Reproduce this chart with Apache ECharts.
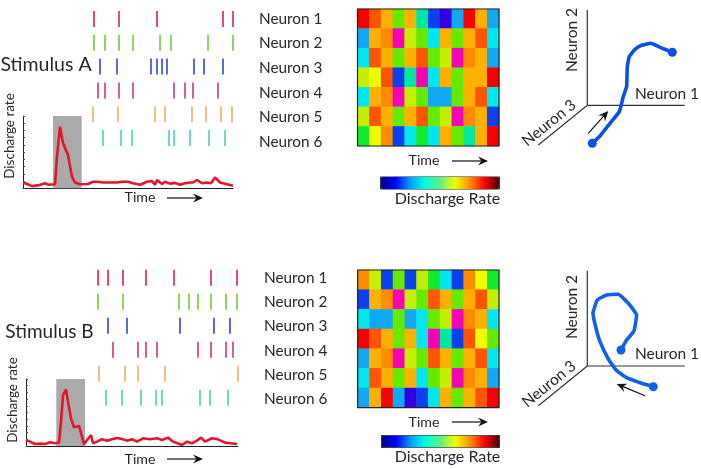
<!DOCTYPE html>
<html>
<head>
<meta charset="utf-8">
<title>Neuron population responses</title>
<script src="https://cdn.jsdelivr.net/npm/echarts@6/dist/echarts.min.js"></script>
<style>
html, body { margin: 0; padding: 0; background: #fff; }
#chart { width: 701px; height: 469px; }
</style>
</head>
<body>
<div id="chart"></div>
<script>
var neurons = ["Neuron 1", "Neuron 2", "Neuron 3", "Neuron 4", "Neuron 5", "Neuron 6"];
var neuronColors = ["#dd2244", "#74cc33", "#3344d6", "#c93a7c", "#e6b064", "#44d2ba"];

// spike times per neuron
var spikesA = [
    [71, 96, 134, 200, 210],
    [71, 82, 96, 110, 137, 148, 185, 210],
    [77, 94, 128, 134, 139, 144, 171, 181, 200],
    [75, 82, 96, 110, 151, 162, 170, 195],
    [70, 95, 132, 142, 169, 183, 198, 209],
    [80, 98, 109, 146, 151, 167, 186, 202]
];
var spikesB = [
    [72, 82, 97, 120, 148, 185, 211],
    [72, 97, 153, 163, 172, 185, 200, 211],
    [82, 101, 154, 188, 204],
    [87, 112, 120, 131, 172, 185, 200, 207],
    [73, 99, 112, 139, 212],
    [80, 96, 115, 130, 136, 174, 184, 202]
];

// discharge rate over time, [time, rate]
var rateA = [[0, 0.8], [4, 0.6], [9, 0.3], [15, 0.4], [22, 0.7], [25, 0.5], [32, 0.55], [34, 4.4], [37, 8.5], [40, 6.25],
    [45, 4.6], [49, 1.6], [52, 0.8], [57, 0.55], [65, 0.6], [70, 0.9], [75, 0.9], [80, 0.8], [87, 0.8], [94, 0.8],
    [99, 0.9], [105, 0.9], [110, 0.7], [117, 0.5], [124, 0.9], [129, 1], [132, 0.5], [134, 1.15], [139, 0.6], [142, 0.9],
    [147, 0.65], [152, 0.75], [157, 0.5], [162, 0.7], [167, 0.8], [170, 0.8], [174, 1.15], [179, 0.7], [184, 0.8], [188, 0.7],
    [192, 1.5], [197, 0.8], [204, 0.55], [210, 0.35]];
var rateB = [[0, 0.9], [4, 0.65], [9, 0.3], [14, 0.35], [19, 0.3], [24, 0.55], [29, 0.4], [33, 0.5], [35, 3.6], [37, 7.6],
    [40, 8.45], [42, 6.6], [45, 4.1], [48, 2.8], [53, 3], [56, 1.4], [58, 0.25], [61, 0.9], [65, 1.65], [67, 0.4],
    [71, 0.65], [76, 1], [81, 0.8], [86, 1], [91, 1.2], [96, 1.05], [101, 0.8], [106, 1], [111, 0.65], [117, 1.15],
    [124, 1], [131, 1.15], [136, 0.9], [142, 1.25], [147, 0.65], [156, 0.15], [161, 0.65], [166, 0.4], [171, 0.8], [175, 1.25],
    [179, 0.65], [186, 1.15], [192, 1], [199, 0.5], [204, 0.4], [211, 0.3]];
var stimA = [30, 58.7];
var stimB = [30.3, 59];

// heat map levels, index into heatColors
var heatColors = ["#1000e8", "#3000e0", "#0a40ee", "#12a8f2", "#00e8ee", "#00e8a0", "#12ea30", "#66ea00", "#c4f000",
    "#eeff00", "#ffb000", "#ff8c00", "#ff5500", "#f80000", "#f800b4"];
var heatA = [
    [13, 12, 10, 7, 10, 5, 2, 1, 3, 13, 10, 3],
    [3, 10, 11, 14, 8, 7, 4, 10, 7, 10, 12, 4],
    [4, 12, 10, 7, 10, 12, 7, 8, 14, 11, 10, 3],
    [8, 9, 12, 2, 5, 14, 4, 10, 7, 10, 10, 13],
    [4, 10, 11, 14, 8, 7, 3, 3, 7, 10, 12, 4],
    [8, 12, 10, 7, 10, 12, 7, 8, 14, 11, 10, 2],
    [6, 9, 11, 2, 4, 6, 4, 10, 7, 5, 10, 13]
];
var heatB = [
    [11, 8, 2, 7, 2, 8, 6, 4, 2, 11, 9, 6],
    [2, 10, 11, 14, 8, 7, 12, 10, 7, 10, 12, 8],
    [4, 3, 3, 7, 3, 4, 7, 8, 14, 11, 10, 4],
    [13, 12, 10, 7, 10, 4, 14, 5, 2, 12, 9, 7],
    [3, 10, 11, 14, 8, 7, 12, 10, 7, 10, 12, 4],
    [4, 12, 10, 7, 10, 4, 7, 8, 14, 11, 10, 3],
    [3, 10, 13, 3, 1, 2, 4, 10, 7, 10, 12, 13]
];
var barColors = ["#000080", "#0000ff", "#00a0ff", "#00ffe0", "#60f080", "#f0ff00", "#ff9000", "#ff0000", "#400000"];

// state space axes and trajectories
var axis1 = [[0, 0], [97.4, 0]];
var axis2 = [[0, 0], [0, 95.3]];
var axis3 = [[0, 0], [-49, -39.7]];
var pathA = [[5, -38], [12.7, -30.7], [22.7, -18], [32, -6.3], [36, 8.7], [39.3, 18.7], [40, 38.7], [42, 48.7],
    [47.7, 56], [54.3, 60], [63.3, 62], [72.7, 58], [85, 53]];
var pathB = [[66, -20.7], [54.3, -17.3], [39.3, -11.7], [28.7, -4], [21, 7], [12.7, 24.3], [8.7, 37.7], [5.7, 52.7],
    [10, 66], [19.3, 71], [31, 71.7], [41, 62.7], [49.3, 51], [46.7, 35], [39.3, 26], [33.7, 16]];

var textColor = "#2a2627";
var axisColor = "#333";
var fontName = 'Lato, "Noto Sans", sans-serif';

var grids = [], xAxes = [], yAxes = [], series = [];

function addGrid(left, top, width, height, xAxis, yAxis) {
    var idx = grids.length;
    grids.push({ left: left, top: top, width: width, height: height });
    xAxis.gridIndex = idx;
    yAxis.gridIndex = idx;
    xAxes.push(xAxis);
    yAxes.push(yAxis);
    return idx;
}

function addRaster(left, top, width, height, spikes, max) {
    var idx = addGrid(left, top, width, height,
        { type: "value", min: 0, max: max, show: false },
        { type: "category", data: neurons, inverse: true, show: false });
    spikes.forEach(function(times, n) {
        series.push({
            type: "scatter",
            name: neurons[n],
            xAxisIndex: idx,
            yAxisIndex: idx,
            symbol: "rect",
            symbolSize: [2, 16],
            itemStyle: { color: neuronColors[n] },
            silent: true,
            data: times.map(function(t) { return [t, n]; })
        });
    });
}

function addNames(left, top, height) {
    addGrid(left - 9, top, 5, height,
        { type: "value", show: false },
        {
            type: "category", data: neurons, inverse: true, position: "right",
            axisLine: { show: false }, axisTick: { show: false },
            axisLabel: { margin: 4, fontSize: 15.3, color: textColor, fontFamily: fontName }
        });
}

function addRate(left, top, width, height, rate, stim, max) {
    var idx = addGrid(left, top, width, height,
        {
            type: "value", min: 0, max: max, splitLine: { show: false },
            axisLabel: { show: false }, axisTick: { show: false },
            axisLine: { show: true, lineStyle: { color: "#222", width: 1 } }
        },
        {
            type: "value", min: 0, max: 10, interval: 1, splitLine: { show: false },
            axisLabel: { show: false },
            axisTick: { show: true, inside: true, length: 2, lineStyle: { color: "#444" } },
            axisLine: { show: true, lineStyle: { color: "#222", width: 1 } }
        });
    series.push({
        type: "line",
        xAxisIndex: idx,
        yAxisIndex: idx,
        data: rate,
        showSymbol: false,
        silent: true,
        z: 5,
        lineStyle: { color: "#e4142c", width: 2.6 },
        markArea: {
            silent: true,
            itemStyle: { color: "#aaaaaa" },
            data: [[{ xAxis: stim[0] }, { xAxis: stim[1] }]]
        }
    });
}

function addHeat(left, top, width, height, rows) {
    var cols = [], names = [], data = [];
    for (var c = 0; c < rows[0].length; c++) cols.push(c);
    rows.forEach(function(row, r) {
        names.push(r);
        row.forEach(function(v, c) { data.push([c, r, v]); });
    });
    var idx = addGrid(left, top, width, height,
        { type: "category", data: cols, show: false },
        { type: "category", data: names, inverse: true, show: false });
    series.push({
        type: "heatmap",
        xAxisIndex: idx,
        yAxisIndex: idx,
        data: data,
        silent: true
    });
    return series.length - 1;
}

function addState(left, top, path, color) {
    var idx = addGrid(left, top, 150, 150,
        { type: "value", min: -50, max: 100, show: false },
        { type: "value", min: -50, max: 100, show: false });
    [axis1, axis2, axis3].forEach(function(a) {
        series.push({
            type: "line", xAxisIndex: idx, yAxisIndex: idx, data: a, showSymbol: false, silent: true,
            lineStyle: { color: axisColor, width: 1.2 }
        });
    });
    series.push({
        type: "line", xAxisIndex: idx, yAxisIndex: idx, data: path, showSymbol: false, silent: true,
        smooth: 0.12, z: 4,
        lineStyle: { color: color, width: 3.6 }
    });
    series.push({
        type: "scatter", xAxisIndex: idx, yAxisIndex: idx, silent: true, z: 5,
        symbolSize: 9, itemStyle: { color: color, opacity: 1 },
        data: [path[0], path[path.length - 1]]
    });
}

addRaster(23, 7, 210, 143, spikesA, 210);
addRaster(26, 265.7, 212, 144, spikesB, 212);
addNames(259, 6.5, 147.6);
addNames(264, 266, 145);
addRate(23, 116, 210, 72.3, rateA, stimA, 210);
addRate(26, 379, 212, 67, rateB, stimB, 212);
var heatSeries = [
    addHeat(357.5, 9, 141.5, 137, heatA),
    addHeat(357.7, 270, 141.3, 137.7, heatB)
];
addState(537.3, 5.3, pathA, "#0c4fe2");
addState(537.3, 266, pathB, "#1060ea");

function label(text, x, y, size, rotation) {
    return {
        type: "text", x: x, y: y, rotation: rotation || 0, z: 20,
        style: { text: text, fill: textColor, font: size + "px " + fontName, textAlign: "center", textVerticalAlign: "middle" }
    };
}

function arrow(x1, y1, x2, y2, head) {
    var a = Math.atan2(y2 - y1, x2 - x1);
    var c = Math.cos(a), s = Math.sin(a);
    return [
        {
            type: "line", z: 20,
            shape: { x1: x1, y1: y1, x2: x2 - c * head * 0.5, y2: y2 - s * head * 0.5 },
            style: { stroke: "#111", lineWidth: 1.2 }
        },
        {
            type: "polygon", z: 20,
            shape: {
                points: [
                    [x2, y2],
                    [x2 - c * head - s * head * 0.45, y2 - s * head + c * head * 0.45],
                    [x2 - c * head * 0.65, y2 - s * head * 0.65],
                    [x2 - c * head + s * head * 0.45, y2 - s * head - c * head * 0.45]
                ]
            },
            style: { fill: "#111" }
        }
    ];
}

function border(x, y, w, h) {
    return {
        type: "rect", z: 20,
        shape: { x: x, y: y, width: w, height: h },
        style: { fill: "none", stroke: "#222", lineWidth: 1.2 }
    };
}

var graphics = [
    label("Stimulus A", 46, 65, 19.5),
    label("Stimulus B", 49.5, 332, 19),
    label("Discharge rate", 10, 136, 13.5, Math.PI / 2),
    label("Discharge rate", 13, 400, 13.5, Math.PI / 2),
    label("Time", 140, 197.5, 14.2),
    label("Time", 140, 459, 14.2),
    label("Time", 424, 160, 14.2),
    label("Time", 424, 422, 14.2),
    label("Discharge Rate", 447.5, 199, 16),
    label("Discharge Rate", 447.5, 457, 16),
    label("Neuron 2", 572, 40, 15.5, Math.PI / 2),
    label("Neuron 1", 667, 94, 15.5),
    label("Neuron 3", 549, 123, 15.5, 0.68),
    label("Neuron 2", 572, 307, 15.5, Math.PI / 2),
    label("Neuron 1", 667, 354, 15.5),
    label("Neuron 3", 549, 384, 15.5, 0.68),
    border(357.5, 9, 141.5, 137),
    border(357.7, 270, 141.3, 137.7)
].concat(
    arrow(167, 198, 203, 198, 10),
    arrow(167, 459, 203, 459, 10),
    arrow(452, 161, 488, 161, 10),
    arrow(452, 422, 488, 422, 10),
    arrow(588.3, 133.3, 608.3, 111, 10),
    arrow(645, 395.7, 616.7, 384, 10)
);

var option = {
    animation: false,
    backgroundColor: "#fff",
    tooltip: { show: false },
    grid: grids,
    xAxis: xAxes,
    yAxis: yAxes,
    series: series,
    graphic: graphics,
    visualMap: [
        {
            type: "piecewise", show: false, seriesIndex: heatSeries, dimension: 2,
            pieces: heatColors.map(function(color, i) { return { value: i, color: color }; })
        },
        {
            type: "continuous", seriesIndex: [], min: 0, max: 1, orient: "horizontal", hoverLink: false,
            left: 380, top: 176.5, itemWidth: 12, itemHeight: 119, padding: 0,
            borderColor: "#222", borderWidth: 1, text: null, showLabel: false,
            inRange: { color: barColors }
        },
        {
            type: "continuous", seriesIndex: [], min: 0, max: 1, orient: "horizontal", hoverLink: false,
            left: 381, top: 435, itemWidth: 12, itemHeight: 118, padding: 0,
            borderColor: "#222", borderWidth: 1, text: null, showLabel: false,
            inRange: { color: barColors }
        }
    ]
};

var myChart = echarts.init(document.getElementById("chart"));
myChart.setOption(option);
</script>
</body>
</html>
